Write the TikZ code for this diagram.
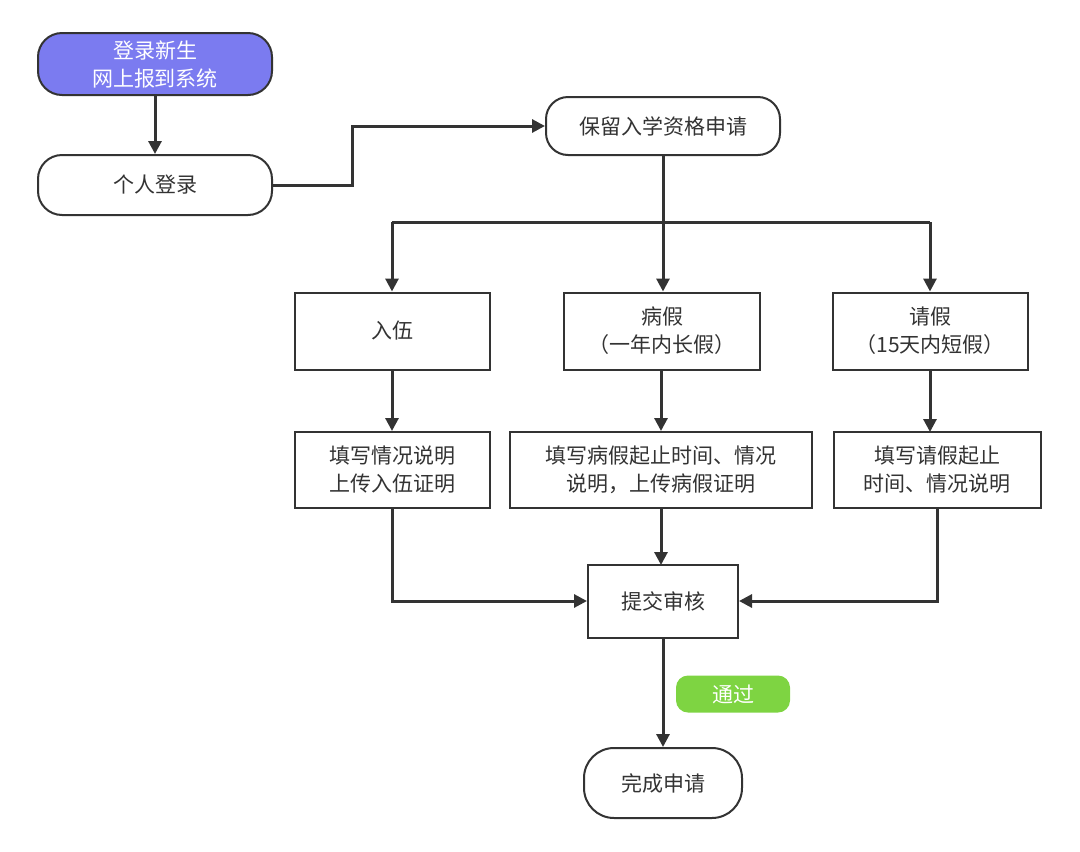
\documentclass[tikz,border=0pt]{standalone}
\usepackage{fontspec}
\setmainfont{Noto Sans CJK SC}
\usetikzlibrary{arrows.meta}
\definecolor{ln}{HTML}{333333}
\definecolor{blu}{HTML}{7B7BF0}
\definecolor{grn}{HTML}{7ED442}
\begin{document}
\begin{tikzpicture}[x=1pt,y=-1pt,
 box/.style={draw=ln,line width=2pt,fill=white,align=center,font=\fontsize{21}{28}\selectfont,text=ln,inner sep=0pt},
 rbox/.style={box,rounded corners=24pt},
 ar/.style={draw=ln,line width=3pt,-{Triangle[length=13pt,width=13pt]}},
 ln/.style={draw=ln,line width=3pt}]
\useasboundingbox (0,0) rectangle (1080,852);
\node[rbox,fill=blu,text=white,minimum width=234pt,minimum height=62pt] (a) at (155,64) {登录新生\\网上报到系统};
\node[rbox,minimum width=234pt,minimum height=60pt] (b) at (155,185) {个人登录};
\node[rbox,minimum width=234pt,minimum height=58pt,rounded corners=22pt] (c) at (663,126) {保留入学资格申请};
\node[box,minimum width=195pt,minimum height=77pt] (d1) at (392,331) {入伍};
\node[box,minimum width=196pt,minimum height=77pt] (d2) at (662,331) {病假\\（一年内长假）};
\node[box,minimum width=195pt,minimum height=77pt] (d3) at (930,331) {请假\\（15天内短假）};
\node[box,minimum width=195pt,minimum height=76pt] (e1) at (392,470) {填写情况说明\\上传入伍证明};
\node[box,minimum width=302pt,minimum height=76pt] (e2) at (661,470) {填写病假起止时间、情况\\说明，上传病假证明};
\node[box,minimum width=207pt,minimum height=76pt] (e3) at (937,470) {填写请假起止\\时间、情况说明};
\node[box,minimum width=150pt,minimum height=73pt] (f) at (663,601) {提交审核};
\node[rbox,minimum width=158pt,minimum height=70pt,rounded corners=30pt] (g) at (663,783) {完成申请};
\node[fill=grn,rounded corners=12pt,minimum width=114pt,minimum height=37pt,text=white,font=\fontsize{21}{28}\selectfont,inner sep=0pt] (p) at (733,694) {通过};
\coordinate (h) at (663,222);
\draw[ar] (a) -- (b);
\draw[ar] (b.east) -- (352,185) |- (c.west);
\draw[ln] (c.south) -- (h);
\draw[ln] (392,222) -- (930,222);
\draw[ar] (h) -- (h|-d2.north);
\draw[ar] (392,222) -- (d1.north);
\draw[ar] (930,222) -- (d3.north);
\draw[ar] (d1) -- (e1);
\draw[ar] (d2.south -| 661,0) -- (e2.north);
\draw[ar] (d3.south) -- (930,432);
\draw[ar] (e1.south) |- (f.west);
\draw[ar] (e3.south) |- (f.east);
\draw[ar] (e2.south) -- (661,565);
\draw[ar] (f) -- (g);
\end{tikzpicture}
\end{document}
